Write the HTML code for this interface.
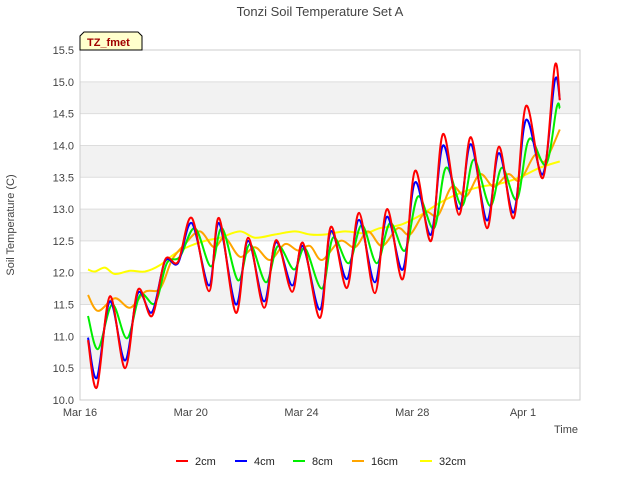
<!DOCTYPE html>
<html><head><meta charset="utf-8"><style>
body{margin:0;background:#fff;font-family:"Liberation Sans",sans-serif}
</style></head><body>
<svg id="c" width="640" height="480" xmlns="http://www.w3.org/2000/svg" font-family="Liberation Sans, sans-serif">
<text x="320" y="16" text-anchor="middle" font-size="13" fill="#444">Tonzi Soil Temperature Set A</text>
<g id="grid"></g>
<g id="series"></g>
<rect x="80" y="50" width="500" height="350" fill="none" stroke="#ccc"/>
<text x="14" y="225" transform="rotate(-90 14 225)" text-anchor="middle" font-size="11" fill="#444">Soil Temperature (C)</text>
<text x="578" y="433" text-anchor="end" font-size="11" fill="#444">Time</text>
<g><path d="M80,50 L80,36 L84,32 L138,32 L142,36 L142,50 Z" fill="#ffffcc" stroke="#000"/><text x="87" y="46" font-size="11" font-weight="bold" fill="#a00000">TZ_fmet</text></g>
<g id="legend"></g>
</svg>
<script>
const yTicks=[10.0,10.5,11.0,11.5,12.0,12.5,13.0,13.5,14.0,14.5,15.0,15.5];
const xTickDays=[0,4,8,12,16];
const xTickLabels=["Mar 16","Mar 20","Mar 24","Mar 28","Apr 1"];
const seriesNames=["2cm","4cm","8cm","16cm","32cm"];
const seriesColors=["#ff0000","#0000ff","#00ee00","#ffa500","#ffff00"];
const tA=[0.29,0.61,1.08,1.63,2.09,2.6,3.07,3.54,4.04,4.66,5.02,5.63,6.07,6.65,7.08,7.66,8.05,8.67,9.06,9.64,10.08,10.65,11.09,11.66,12.1,12.68,13.11,13.69,14.12,14.7,15.13,15.67,16.11,16.72,17.15,17.33];
const v2=[10.94,10.2,11.63,10.5,11.73,11.32,12.2,12.17,12.86,11.71,12.86,11.37,12.55,11.45,12.51,11.7,12.47,11.29,12.72,11.76,12.94,11.68,13.0,11.9,13.6,12.5,14.18,12.91,14.13,12.7,13.98,12.86,14.62,13.49,15.25,14.71];
const v4=[10.98,10.35,11.55,10.62,11.68,11.38,12.18,12.15,12.78,11.8,12.78,11.5,12.5,11.55,12.48,11.8,12.42,11.42,12.65,11.9,12.83,11.85,12.88,12.05,13.42,12.6,14.0,13.0,14.02,12.82,13.88,12.95,14.4,13.55,15.02,14.72];
const t8=[0.29,0.65,1.16,1.7,2.17,2.71,3.14,3.61,4.15,4.73,5.13,5.71,6.14,6.72,7.15,7.73,8.13,8.74,9.14,9.71,10.18,10.72,11.2,11.74,12.21,12.79,13.22,13.8,14.23,14.81,15.24,15.78,16.22,16.83,17.22,17.33];
const v8=[11.32,10.8,11.5,10.97,11.65,11.52,12.15,12.25,12.7,12.1,12.7,11.88,12.45,11.85,12.42,12.05,12.38,11.75,12.55,12.15,12.75,12.15,12.78,12.35,13.2,12.7,13.65,13.05,13.78,13.05,13.65,13.15,14.1,13.7,14.6,14.58];
const t16=[0.29,0.65,1.26,1.81,2.35,2.89,3.32,3.79,4.33,4.84,5.24,5.78,6.32,6.86,7.4,7.87,8.31,8.74,9.39,9.93,10.4,10.91,11.48,11.92,12.46,12.93,13.43,13.94,14.45,14.95,15.46,15.89,16.43,16.79,17.33];
const v16=[11.65,11.4,11.6,11.45,11.7,11.75,12.2,12.45,12.65,12.4,12.55,12.25,12.4,12.2,12.45,12.35,12.42,12.2,12.5,12.4,12.65,12.42,12.7,12.6,12.95,12.9,13.35,13.2,13.55,13.35,13.55,13.45,13.85,13.75,14.25];
const t32=[0.29,0.54,0.9,1.26,1.81,2.35,2.89,3.43,3.97,4.51,5.06,5.78,6.32,7.04,7.76,8.31,8.85,9.57,10.29,10.83,11.56,12.28,13.0,13.72,14.45,15.17,15.89,16.61,17.33];
const v32=[12.05,12.02,12.08,11.98,12.03,12.02,12.12,12.3,12.42,12.5,12.55,12.65,12.55,12.6,12.65,12.6,12.6,12.65,12.62,12.7,12.75,12.9,13.1,13.25,13.35,13.4,13.5,13.65,13.75];
const X0=80,X1=580,Y0=400,Y1=50,DMAX=18.06,VMIN=10,VMAX=15.5;
const xs=d=>X0+d*(X1-X0)/DMAX;
const ys=v=>Y0-(v-VMIN)*(Y0-Y1)/(VMAX-VMIN);
const NS="http://www.w3.org/2000/svg";
const grid=document.getElementById('grid');
for(let i=0;i<yTicks.length-1;i++){
  if(i%2===1){const r=document.createElementNS(NS,'rect');
  
  
  r.setAttribute('x',X0);r.setAttribute('width',X1-X0);
  r.setAttribute('y',ys(yTicks[i+1]));r.setAttribute('height',ys(yTicks[i])-ys(yTicks[i+1]));
  r.setAttribute('fill','#f2f2f2');grid.appendChild(r);}
}
yTicks.forEach(v=>{
  const l=document.createElementNS(NS,'line');
  
  
  l.setAttribute('x1',X0);l.setAttribute('x2',X1);l.setAttribute('y1',ys(v));l.setAttribute('y2',ys(v));
  l.setAttribute('stroke','#dddddd');grid.appendChild(l);
  const t=document.createElementNS(NS,'text');
  
  
  t.setAttribute('x',X0-6);t.setAttribute('y',ys(v)+4);t.setAttribute('text-anchor','end');
  t.setAttribute('font-size','11');t.setAttribute('fill','#444');t.textContent=v.toFixed(1);grid.appendChild(t);
});
xTickDays.forEach((d,i)=>{
  const t=document.createElementNS(NS,'text');
  
  
  t.setAttribute('x',xs(d));t.setAttribute('y',416);t.setAttribute('text-anchor','middle');
  t.setAttribute('font-size','11');t.setAttribute('fill','#444');t.textContent=xTickLabels[i];grid.appendChild(t);
});
function pathFor(ts,vs){
  const p=ts.map((t,i)=>[xs(t),ys(vs[i])]);
  let d='M'+p[0][0].toFixed(1)+','+p[0][1].toFixed(1);
  for(let i=0;i<p.length-1;i++){
    const a=p[Math.max(0,i-1)],b=p[i],c=p[i+1],e=p[Math.min(p.length-1,i+2)];
    const c1=[b[0]+(c[0]-a[0])/6,b[1]+(c[1]-a[1])/6],c2=[c[0]-(e[0]-b[0])/6,c[1]-(e[1]-b[1])/6];
    d+=' C'+c1.map(n=>n.toFixed(1))+' '+c2.map(n=>n.toFixed(1))+' '+c[0].toFixed(1)+','+c[1].toFixed(1);
  }
  return d;
}
const data=[[tA,v2],[tA,v4],[t8,v8],[t16,v16],[t32,v32]];
const sg=document.getElementById('series');
for(let k=4;k>=0;k--){
  const p=document.createElementNS(NS,'path');
  
  
  p.setAttribute('d',pathFor(data[k][0],data[k][1]));
  p.setAttribute('fill','none');p.setAttribute('stroke',seriesColors[k]);p.setAttribute('stroke-width','2');
  sg.appendChild(p);
}
const lg=document.getElementById('legend');
const lx=[176,235,293,352,420];
seriesNames.forEach((n,i)=>{
  const g=document.createElementNS(NS,'g');
  
  
  const l=document.createElementNS(NS,'line');
  l.setAttribute('x1',lx[i]);l.setAttribute('x2',lx[i]+12);l.setAttribute('y1',461);l.setAttribute('y2',461);
  l.setAttribute('stroke',seriesColors[i]);l.setAttribute('stroke-width','2');g.appendChild(l);
  const t=document.createElementNS(NS,'text');
  t.setAttribute('x',lx[i]+19);t.setAttribute('y',465);t.setAttribute('font-size','11');t.setAttribute('fill','#222');
  t.textContent=n;g.appendChild(t);lg.appendChild(g);
});
</script>
</body></html>
